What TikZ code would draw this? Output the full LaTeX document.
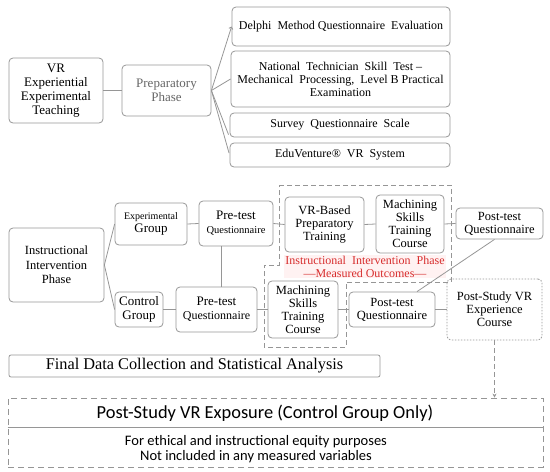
\documentclass[tikz,border=0pt]{standalone}
\usepackage{fontspec}
\setmainfont{Liberation Serif}
\newfontfamily\calibri{Carlito}
\usetikzlibrary{arrows.meta}
\definecolor{edge}{RGB}{150,150,150}
\definecolor{redtxt}{RGB}{215,45,45}
\newcommand{\fsz}[2]{\fontsize{#1}{#2}\selectfont}
\begin{document}
\begin{tikzpicture}[x=1pt,y=-1pt,
  box/.style={draw=edge,rounded corners=4pt,align=center,inner sep=0pt,line width=0.8pt,font=\fsz{12.5}{13}},
  link/.style={draw=edge,line width=0.8pt}]
\useasboundingbox (0,0) rectangle (550,472);
% preparatory phase
\node[box,minimum width=94pt,minimum height=65pt,font=\fsz{13}{14}] (vrt) at (56,90.5) {VR\\Experiential\\Experimental\\Teaching};
\node[box,minimum width=89pt,minimum height=51pt,font=\fsz{13}{14},text=black!60] (prep) at (166.5,90.5) {Preparatory\\Phase};
\node[box,minimum width=218pt,minimum height=39pt,font=\fsz{12}{13}] (delphi) at (341,26.5) {Delphi\ \ Method Questionnaire\ \ Evaluation};
\node[box,minimum width=219pt,minimum height=56pt,font=\fsz{12}{13}] (ntst) at (340.5,79) {National\ \ Technician\ \ Skill\ \ Test --\\Mechanical\ \ Processing,\ \ Level B Practical\\Examination};
\node[box,minimum width=220pt,minimum height=24pt,font=\fsz{12}{13}] (survey) at (340,125) {Survey\ \ Questionnaire\ \ Scale};
\node[box,minimum width=220pt,minimum height=24pt,font=\fsz{12}{13}] (edu) at (340,155) {EduVenture®\ \ VR\ \ System};
\draw[link] (vrt.east) -- (prep.west);
\draw[link,-{Straight Barb[length=2pt,width=4pt]}] (prep.east) -- (delphi.west);
\draw[link] (prep.east) -- (ntst.west);
\draw[link,shorten >=3pt] (prep.east) -- (survey.south west);
\draw[link,shorten >=2pt] (prep.east) -- (edu.west);
% intervention phase
\draw[edge,line width=0.8pt,dash pattern=on 5pt off 3pt] (279,185) -- (451,185) -- (451,282) -- (346,282) -- (346,347) -- (264,347) -- (264,265) -- (279,265) -- cycle;
\node[box,minimum width=95pt,minimum height=74pt,font=\fsz{12.5}{14.5}] (iip) at (56.5,265) {Instructional\\Intervention\\Phase};
\node[box,minimum width=72pt,minimum height=42pt,font=\fsz{13}{13}] (expg) at (151,224) {{\fsz{10}{12}Experimental}\\Group};
\node[box,minimum width=74pt,minimum height=45pt,font=\fsz{13}{14}] (pre1) at (236,223.5) {Pre-test\\{\fsz{10.5}{12}Questionnaire}};
\node[box,minimum width=48pt,minimum height=35pt,font=\fsz{13}{14}] (ctrl) at (139,309.5) {Control\\Group};
\node[box,minimum width=81pt,minimum height=45pt,font=\fsz{13}{14}] (pre2) at (216.5,309.5) {Pre-test\\{\fsz{12}{13}Questionnaire}};
\node[box,minimum width=79pt,minimum height=55pt] (vrb) at (324.5,224.5) {VR-Based\\Preparatory\\Training};
\node[box,minimum width=68pt,minimum height=58pt] (mach1) at (410,224) {Machining\\Skills\\Training\\Course};
\node[box,minimum width=87pt,minimum height=31pt] (post1) at (499.5,223.5) {Post-test\\Questionnaire};
\node[box,minimum width=70pt,minimum height=57pt] (mach2) at (303,309.5) {Machining\\Skills\\Training\\Course};
\node[box,minimum width=86pt,minimum height=35pt] (post2) at (392,309.5) {Post-test\\Questionnaire};
\node[box,minimum width=95pt,minimum height=61pt,dash pattern=on 1.5pt off 1.5pt] (psvr) at (494.5,309.5) {Post-Study VR\\Experience\\Course};
\node[fill=red!5,text=redtxt,font=\fsz{12}{13},align=center,inner sep=1pt] (mo) at (365,266.5) {Instructional\ \ Intervention\ \ Phase\\---Measured Outcomes---};
\draw[link] (iip.east) -- (expg.west);
\draw[link] (iip.east) -- (ctrl.west);
\draw[link] (expg.east) -- (pre1.west);
\draw[link] (ctrl.east) -- (pre2.west);
\draw[link] ([xshift=4.5pt]pre2.north) -- ([xshift=4.5pt]pre2.north |- pre1.south);
\draw[link] (pre1.east) -- (vrb.west);
\draw[link] (vrb.east) -- (mach1.west);
\draw[link] (mach1.east) -- (post1.west);
\draw[link] ([xshift=-5pt]post1.south) -- ([xshift=25pt]post2.north);
\draw[link] (pre2.east) -- (mach2.west);
\draw[link] (mach2.east) -- (post2.west);
\draw[link] (post2.east) -- (psvr.west);
% final rows
\node[box,minimum width=371pt,minimum height=22pt,rounded corners=2pt,font=\fsz{16.3}{17}] (fdc) at (194.5,366) {Final Data Collection and Statistical Analysis};
\node[draw=edge,line width=0.8pt,dash pattern=on 6pt off 4pt,minimum width=535pt,minimum height=69pt] (expo) at (275.5,432.5) {};
\coordinate (dv) at (0,427);
\draw[link] (expo.west |- dv) -- (expo.east |- dv);
\node[font=\calibri\fsz{18.4}{20}] (expot) at (265,413) {Post-Study VR Exposure (Control Group Only)};
\node[font=\calibri\fsz{14.5}{15.5},align=center] (expon) at (256,449) {For ethical and instructional equity purposes\\Not included in any measured variables};
\draw[link,dash pattern=on 5pt off 3pt,-{Stealth[length=4pt,width=4pt]}] (psvr.south) -- (psvr.south |- expo.north);
\end{tikzpicture}
\end{document}
